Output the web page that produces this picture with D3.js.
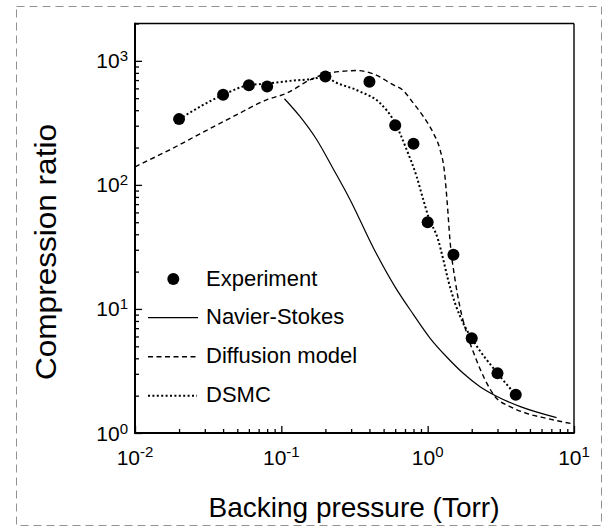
<!DOCTYPE html>
<html>
<head>
<meta charset="utf-8">
<script src="https://cdn.jsdelivr.net/npm/d3@7"></script>
<style>
  html, body { margin: 0; padding: 0; background: #fff; }
  svg { display: block; font-family: "Liberation Sans", Arial, Helvetica, sans-serif; }
</style>
</head>
<body>
<svg id="chart" width="603" height="526"></svg>
<script>
// ---- Data ----
const expX = [0.02, 0.04, 0.06, 0.08, 0.2, 0.4, 0.6, 0.8, 1.0, 1.5, 2.0, 3.0, 4.0];
const expY = [339, 532, 637, 621, 747, 677, 303, 215, 50, 27.4, 5.8, 3.03, 2.03];

const nsX = [0.105, 0.134, 0.175, 0.226, 0.295, 0.426, 0.6, 0.8, 1.04, 1.35, 1.75, 2.28, 3.0, 4.3, 7.6];
const nsY = [495, 356, 230, 135, 76, 31, 15, 9, 5.8, 4.1, 3.03, 2.36, 1.96, 1.63, 1.33];

const diffX = [0.01, 0.0173, 0.0278, 0.047, 0.0794, 0.109, 0.157, 0.2, 0.252, 0.327, 0.426, 0.583, 0.665, 0.798, 0.934, 1.094, 1.215, 1.3, 1.36, 1.42, 1.54, 1.66, 1.85, 2.11, 2.47, 2.89, 3.66, 4.75, 6.52, 10];
const diffY = [140, 192, 258, 356, 485, 549, 703, 785, 820, 835, 785, 640, 591, 456, 356, 261, 192, 130, 72, 36, 17.1, 10.4, 6.37, 4.12, 2.68, 1.96, 1.63, 1.44, 1.31, 1.18];

const dsmcX = [0.02, 0.04, 0.06, 0.08, 0.12, 0.16, 0.2, 0.23, 0.345, 0.473, 0.6, 0.72, 0.84, 0.934, 1.01, 1.18, 1.28, 1.38, 1.54, 1.75, 2.0, 3.0, 4.0];
const dsmcY = [339, 532, 637, 655, 694, 712, 747, 680, 566, 456, 314, 191, 117, 75.7, 55.6, 36, 24.8, 17.1, 11.1, 7.67, 5.8, 3.03, 2.03];

const xMajor = [0.01, 0.1, 1, 10];
const xMajorExp = ["-2", "-1", "0", "1"];
const yMajor = [1, 10, 100, 1000];
const yMajorExp = ["0", "1", "2", "3"];

const legendLabels = ["Experiment", "Navier-Stokes", "Diffusion model", "DSMC"];
const xTitle = "Backing pressure (Torr)";
const yTitle = "Compression ratio";

// ---- Layout ----
const L = 135, R = 574, T = 23.5, B = 433;
const svg = d3.select("#chart");

// outer dashed border
svg.append("rect")
  .attr("x", 16.5).attr("y", 6.5).attr("width", 585).attr("height", 519)
  .attr("fill", "none").attr("stroke", "#929292").attr("stroke-width", 1)
  .attr("stroke-dasharray", "8,5");

const x = d3.scaleLog().domain([0.01, 10]).range([L, R]);
const y = d3.scaleLog().domain([1, 2000]).range([B, T]);

function minors(lo, hi) {
  const out = [];
  for (let e = lo; e < hi; e++) for (let m = 2; m <= 9; m++) out.push(m * Math.pow(10, e));
  return out;
}
const xMinor = minors(-2, 1);
const yMinor = minors(0, 4).filter(v => v <= 2000);

// axes (ticks inward)
const gx = svg.append("g").attr("transform", `translate(0,${B})`);
gx.call(d3.axisBottom(x).tickValues(xMinor).tickSize(-4).tickFormat(""));
gx.append("g").call(d3.axisBottom(x).tickValues(xMajor).tickSize(-7).tickFormat(""));
const gy = svg.append("g").attr("transform", `translate(${L},0)`);
gy.call(d3.axisLeft(y).tickValues(yMinor).tickSize(-4).tickFormat(""));
gy.append("g").call(d3.axisLeft(y).tickValues(yMajor).tickSize(-7).tickFormat(""));
svg.selectAll(".domain").remove();
svg.selectAll(".tick line").attr("stroke", "#000").attr("stroke-width", 1.3);

// frame
svg.append("line").attr("x1", L).attr("x2", R).attr("y1", T).attr("y2", T).attr("stroke", "#000").attr("stroke-width", 1.6);
svg.append("line").attr("x1", R).attr("x2", R).attr("y1", T).attr("y2", B).attr("stroke", "#000").attr("stroke-width", 1.4);
svg.append("line").attr("x1", L).attr("x2", R + 0.7).attr("y1", B).attr("y2", B).attr("stroke", "#000").attr("stroke-width", 2);
svg.append("line").attr("x1", L).attr("x2", L).attr("y1", T - 0.8).attr("y2", B + 1).attr("stroke", "#000").attr("stroke-width", 2);

// tick labels
xMajor.forEach((v, i) => {
  const t = svg.append("text").attr("x", x(v)).attr("y", 465)
    .attr("text-anchor", "middle").attr("font-size", 21).attr("fill", "#000");
  t.append("tspan").text("10");
  t.append("tspan").attr("font-size", 15).attr("dy", -8).text(xMajorExp[i]);
});
yMajor.forEach((v, i) => {
  const t = svg.append("text").attr("x", 128).attr("y", y(v) + 7.5)
    .attr("text-anchor", "end").attr("font-size", 21).attr("fill", "#000");
  t.append("tspan").text("10");
  t.append("tspan").attr("font-size", 15).attr("dy", -7).text(yMajorExp[i]);
});

// axis titles
svg.append("text").attr("x", 354).attr("y", 517).attr("text-anchor", "middle")
  .attr("font-size", 28).attr("fill", "#000").text(xTitle);
svg.append("text").attr("transform", "translate(56,252) rotate(-90)")
  .attr("text-anchor", "middle").attr("font-size", 29)
  .attr("textLength", 256).attr("lengthAdjust", "spacingAndGlyphs")
  .attr("fill", "#000").text(yTitle);

// lines
const line = d3.line().x(d => x(d[0])).y(d => y(d[1])).curve(d3.curveMonotoneX);
const plot = svg.append("g");
plot.append("path").datum(d3.zip(nsX, nsY)).attr("d", line)
  .attr("fill", "none").attr("stroke", "#000").attr("stroke-width", 1.2);
plot.append("path").datum(d3.zip(diffX, diffY)).attr("d", line)
  .attr("fill", "none").attr("stroke", "#000").attr("stroke-width", 1.4).attr("stroke-dasharray", "5,3.5");
plot.append("path").datum(d3.zip(dsmcX, dsmcY)).attr("d", line)
  .attr("fill", "none").attr("stroke", "#000").attr("stroke-width", 2).attr("stroke-dasharray", "2,2.4");
plot.selectAll("circle").data(d3.zip(expX, expY)).join("circle")
  .attr("cx", d => x(d[0])).attr("cy", d => y(d[1])).attr("r", 6).attr("fill", "#000");

// legend
const legY = [279, 317.7, 356.7, 395.7];
const lg = svg.append("g");
lg.append("circle").attr("cx", 173.3).attr("cy", legY[0]).attr("r", 6).attr("fill", "#000");
lg.append("line").attr("x1", 148).attr("x2", 198).attr("y1", legY[1]).attr("y2", legY[1])
  .attr("stroke", "#000").attr("stroke-width", 1.2);
lg.append("line").attr("x1", 148).attr("x2", 198).attr("y1", legY[2]).attr("y2", legY[2])
  .attr("stroke", "#000").attr("stroke-width", 1.4).attr("stroke-dasharray", "5,3.5");
lg.append("line").attr("x1", 148).attr("x2", 197).attr("y1", legY[3]).attr("y2", legY[3])
  .attr("stroke", "#000").attr("stroke-width", 2).attr("stroke-dasharray", "2,2.4");
legendLabels.forEach((s, i) => {
  lg.append("text").attr("x", 206).attr("y", legY[i] + 6.5).attr("font-size", 22)
    .attr("fill", "#000").text(s);
});
</script>
</body>
</html>
